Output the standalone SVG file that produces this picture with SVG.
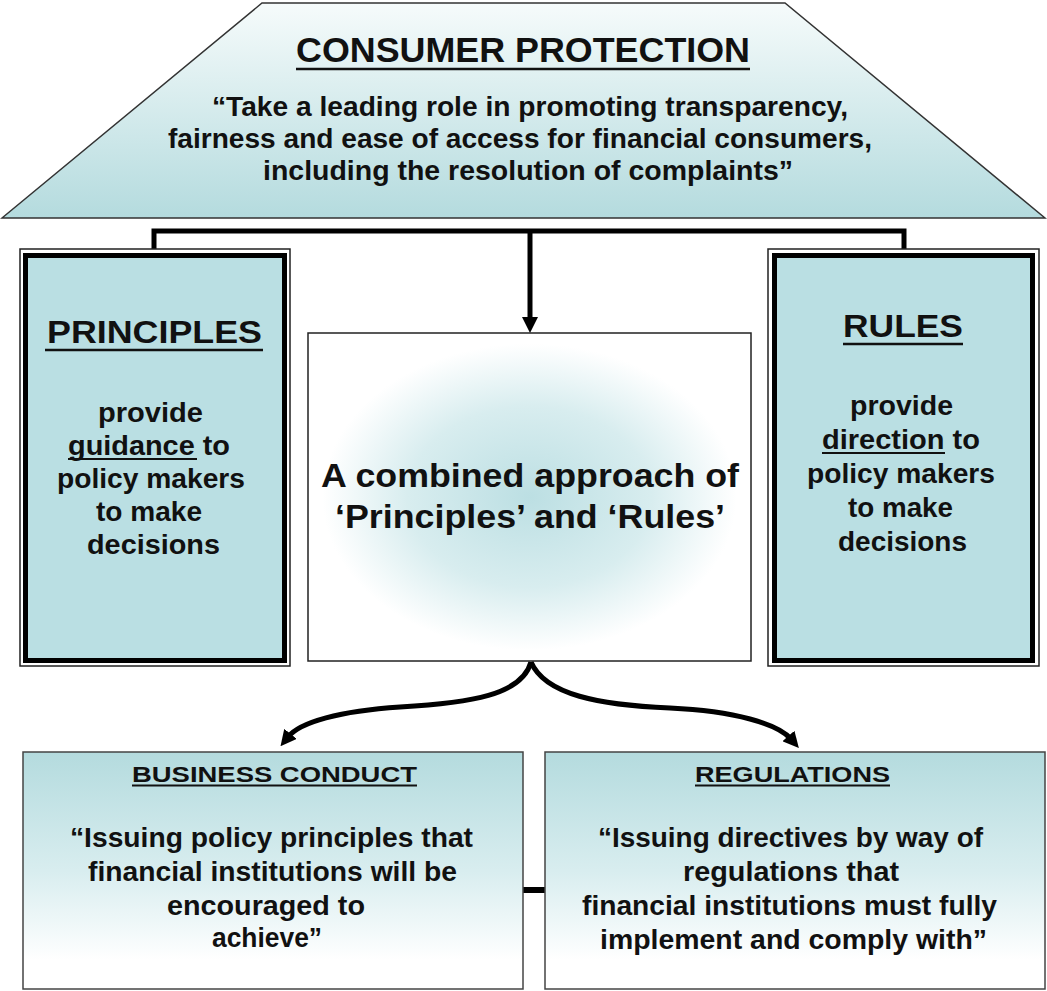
<svg xmlns="http://www.w3.org/2000/svg" width="1047" height="991" viewBox="0 0 1047 991">
<style>
text{font-family:"Liberation Sans",Arial,sans-serif;font-weight:bold;fill:#111;text-anchor:middle}
.ul{stroke:#111;stroke-width:2.5;fill:none}
.conn{stroke:#000;stroke-width:5;fill:none}
.thin{fill:none;stroke:#222;stroke-width:1.5}
.thick{fill:#badfe3;stroke:#000;stroke-width:5}
</style>
<defs>
<linearGradient id="gTop" x1="0" y1="0" x2="0" y2="1">
<stop offset="0" stop-color="#f6fbfb"/>
<stop offset="1" stop-color="#b4dbde"/>
</linearGradient>
<linearGradient id="gBot" x1="0" y1="0" x2="0" y2="1">
<stop offset="0" stop-color="#b4dbde"/>
<stop offset="0.5" stop-color="#d8edef"/>
<stop offset="0.88" stop-color="#ffffff"/>
</linearGradient>
<radialGradient id="gMid" cx="0.5" cy="0.5" r="0.55">
<stop offset="0" stop-color="#bcdfe3"/>
<stop offset="0.5" stop-color="#d8edef"/>
<stop offset="0.85" stop-color="#ffffff"/>
</radialGradient>
<marker id="ah" viewBox="0 0 16 16" markerWidth="16" markerHeight="16" refX="4" refY="8" orient="auto" markerUnits="userSpaceOnUse">
<path d="M0,0 L16,8 L0,16 z" fill="#000"/>
</marker>
</defs>

<g id="consumer-protection">
<polygon points="262,3 785,3 1045,218 2,218" fill="url(#gTop)" stroke="#333" stroke-width="1.5"/>
<text x="523" y="62" font-size="35" textLength="454" lengthAdjust="spacingAndGlyphs">CONSUMER PROTECTION</text>
<line class="ul" x1="296" y1="69" x2="750" y2="69"/>
<text x="530" y="116" font-size="28" textLength="636" lengthAdjust="spacingAndGlyphs">“Take a leading role in promoting transparency,</text>
<text x="520" y="148" font-size="28" textLength="704" lengthAdjust="spacingAndGlyphs">fairness and ease of access for financial consumers,</text>
<text x="528" y="180" font-size="28" textLength="530" lengthAdjust="spacingAndGlyphs">including the resolution of complaints”</text>
</g>

<g id="connectors">
<polyline class="conn" points="154,249 154,231 904,231 904,249"/>
<line class="conn" x1="530" y1="231" x2="530" y2="321" marker-end="url(#ah)"/>
<path class="conn" d="M531,662 C522,695 470,703 400,707 C340,711 300,722 288,737" marker-end="url(#ah)"/>
<path class="conn" d="M531,662 C545,695 600,705 670,708 C735,711 778,724 791,739" marker-end="url(#ah)"/>
<line x1="523" y1="890" x2="545" y2="890" stroke="#000" stroke-width="6"/>
</g>

<g id="principles">
<rect class="thin" x="20" y="249" width="270" height="417" fill="#fff"/>
<rect class="thick" x="25.5" y="255.5" width="259" height="405"/>
<text x="154.5" y="343" font-size="31" textLength="215" lengthAdjust="spacingAndGlyphs">PRINCIPLES</text>
<line class="ul" x1="45" y1="350" x2="263" y2="350"/>
<text x="150.5" y="422" font-size="28" textLength="105" lengthAdjust="spacingAndGlyphs">provide</text>
<text x="149" y="455" font-size="28" textLength="162" lengthAdjust="spacingAndGlyphs">guidance to</text>
<line x1="68" y1="459" x2="197" y2="459" stroke="#111" stroke-width="2"/>
<text x="151" y="488" font-size="28" textLength="188" lengthAdjust="spacingAndGlyphs">policy makers</text>
<text x="149" y="521" font-size="28" textLength="106" lengthAdjust="spacingAndGlyphs">to make</text>
<text x="153.5" y="554" font-size="28" textLength="133" lengthAdjust="spacingAndGlyphs">decisions</text>
</g>

<g id="rules">
<rect class="thin" x="768" y="249" width="271" height="417" fill="#fff"/>
<rect class="thick" x="774.5" y="255.5" width="258" height="405"/>
<text x="903" y="337" font-size="31" textLength="120" lengthAdjust="spacingAndGlyphs">RULES</text>
<line class="ul" x1="843" y1="344" x2="963" y2="344"/>
<text x="901.5" y="415" font-size="28" textLength="103" lengthAdjust="spacingAndGlyphs">provide</text>
<text x="901" y="449" font-size="28" textLength="158" lengthAdjust="spacingAndGlyphs">direction to</text>
<line x1="822" y1="453" x2="945" y2="453" stroke="#111" stroke-width="2"/>
<text x="901" y="483" font-size="28" textLength="188" lengthAdjust="spacingAndGlyphs">policy makers</text>
<text x="900.5" y="517" font-size="28" textLength="105" lengthAdjust="spacingAndGlyphs">to make</text>
<text x="902.5" y="551" font-size="28" textLength="129" lengthAdjust="spacingAndGlyphs">decisions</text>
</g>

<g id="combined-approach">
<rect x="308" y="333" width="443" height="328" fill="url(#gMid)" stroke="#222" stroke-width="1.5"/>
<text x="530" y="487" font-size="34" textLength="418" lengthAdjust="spacingAndGlyphs">A combined approach of</text>
<text x="530" y="528" font-size="34" textLength="390" lengthAdjust="spacingAndGlyphs">‘Principles’ and ‘Rules’</text>
</g>

<g id="business-conduct">
<rect x="23" y="752" width="500" height="237" fill="url(#gBot)" stroke="#444" stroke-width="1.5"/>
<text x="274.5" y="782" font-size="22" textLength="285" lengthAdjust="spacingAndGlyphs">BUSINESS CONDUCT</text>
<line x1="132" y1="785.5" x2="417" y2="785.5" stroke="#111" stroke-width="2"/>
<text x="271.5" y="847" font-size="27" textLength="403" lengthAdjust="spacingAndGlyphs">“Issuing policy principles that</text>
<text x="272.5" y="881" font-size="27" textLength="369" lengthAdjust="spacingAndGlyphs">financial institutions will be</text>
<text x="266" y="915" font-size="27" textLength="198" lengthAdjust="spacingAndGlyphs">encouraged to</text>
<text x="267" y="947" font-size="27" textLength="110" lengthAdjust="spacingAndGlyphs">achieve”</text>
</g>

<g id="regulations">
<rect x="545" y="752" width="500" height="237" fill="url(#gBot)" stroke="#444" stroke-width="1.5"/>
<text x="792.5" y="782" font-size="22" textLength="195" lengthAdjust="spacingAndGlyphs">REGULATIONS</text>
<line x1="695" y1="785.5" x2="890" y2="785.5" stroke="#111" stroke-width="2"/>
<text x="790.5" y="847" font-size="27" textLength="385" lengthAdjust="spacingAndGlyphs">“Issuing directives by way of</text>
<text x="791" y="881" font-size="27" textLength="216" lengthAdjust="spacingAndGlyphs">regulations that</text>
<text x="789.5" y="915" font-size="27" textLength="415" lengthAdjust="spacingAndGlyphs">financial institutions must fully</text>
<text x="793.5" y="949" font-size="27" textLength="387" lengthAdjust="spacingAndGlyphs">implement and comply with”</text>
</g>
</svg>
